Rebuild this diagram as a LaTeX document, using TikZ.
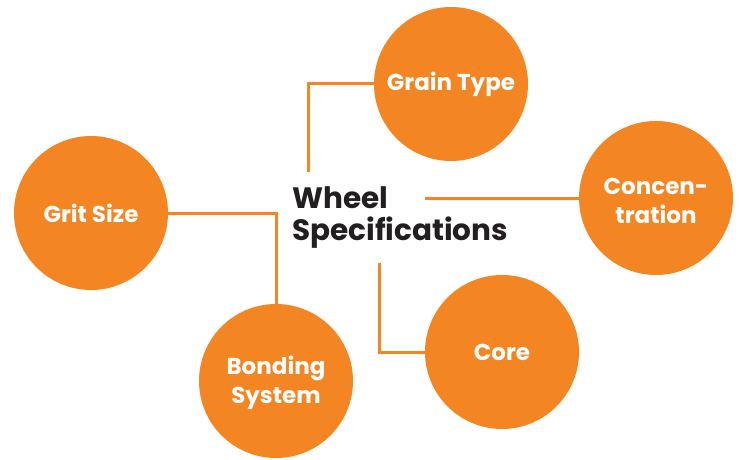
\documentclass[tikz,border=0pt]{standalone}
\usepackage{fontspec}
\setmainfont{Poppins}
\definecolor{wheelorange}{RGB}{243,133,35}
\definecolor{titledark}{RGB}{35,31,32}
\begin{document}
\begin{tikzpicture}[x=1pt,y=-1pt,
  spec/.style={circle,fill=wheelorange,minimum size=154pt,inner sep=0pt,text=white,align=center,font=\fontsize{23}{29}\selectfont\bfseries},
  link/.style={draw=wheelorange,line width=3pt}]
\useasboundingbox (0,0) rectangle (739,460);
\node[spec] (gt) at (451,84) {Grain Type};
\node[spec] (con) at (656,198) {\\[-29pt]\mbox{}\\[-6pt]Concen-\\tration};
\node[spec] (grit) at (91,213) {Grit Size};
\node[spec] (bond) at (276,381) {\\[-29pt]\mbox{}\\[-6pt]Bonding\\System};
\node[spec] (core) at (502,352) {Core};
\node[anchor=west,align=left,text=titledark,font=\fontsize{29.5}{32}\selectfont\bfseries,inner sep=0pt] (title) at (292,218) {Wheel\\Specifications};
\coordinate (gtend) at (308,172);
\coordinate (conend) at (425,198);
\coordinate (coreend) at (379,263);
\draw[link] (gt.west) -| (gtend);
\draw[link] (con.west) -- (conend);
\draw[link] (grit.east) -| (bond.north);
\draw[link] (core.west) -| (coreend);
\end{tikzpicture}
\end{document}
